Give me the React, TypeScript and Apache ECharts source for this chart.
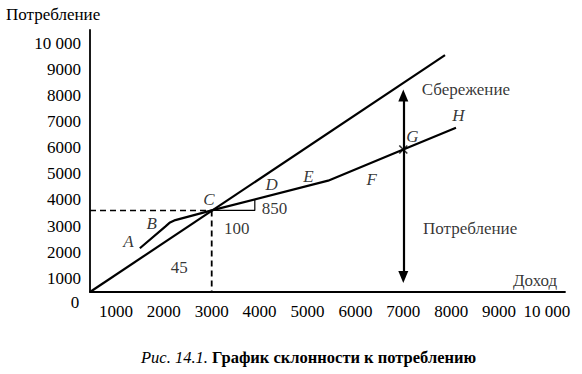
import React, { useEffect, useRef } from "react";
import * as echarts from "echarts";

// Axis tick labels (income / consumption)
const xTicks = [1000, 2000, 3000, 4000, 5000, 6000, 7000, 8000, 9000, 10000];
const yTicks = [1000, 2000, 3000, 4000, 5000, 6000, 7000, 8000, 9000, 10000];

// 45-degree line (consumption = income)
const diagonal: number[][] = [[459, 475], [7871, 9548]];
// Consumption function A-B-C-D-E-F-G-H
const consumption: number[][] = [
  [1500, 2150], [2030, 2980], [2130, 3140], [2240, 3230],
  [3000, 3600], [5430, 4740], [7000, 5935], [8100, 6770],
];
// Dashed guides through point C
const guideH: number[][] = [[459, 3600], [3000, 3600]];
const guideV: number[][] = [[3000, 3600], [3000, 475]];
// Slope triangle (100 / 850)
const slopeMark: number[][] = [[3000, 3600], [3900, 3600], [3900, 4020]];
// Savings / consumption arrow at income 7000
const arrowIncome = 7000;
const arrowTop = 8000;
const arrowBottom = 1050;
const pointG: number[] = [7000, 5935];

// Letters and annotations inside the plot
const pointLetters = [
  { text: "A", x: 1259, y: 2400 },
  { text: "B", x: 1747, y: 3105 },
  { text: "C", x: 2944, y: 4035 },
  { text: "D", x: 4253, y: 4610 },
  { text: "E", x: 5017, y: 4916 },
  { text: "F", x: 6340, y: 4790 },
  { text: "G", x: 7188, y: 6447 },
  { text: "H", x: 8148, y: 7251 },
];
const annotations = [
  { text: "850", x: 4044, y: 3679, align: "left" },
  { text: "100", x: 3522, y: 2913, align: "center" },
  { text: "45", x: 2324, y: 1420, align: "center" },
  { text: "Сбережение", x: 7384, y: 8235, align: "left" },
  { text: "Потребление", x: 7411, y: 2913, align: "left" },
  { text: "Доход", x: 9290, y: 934, align: "left" },
];

const FONT = "'Liberation Serif', 'DejaVu Serif', serif";
const FS = 17;
const fmt = (v: number) => (v === 10000 ? "10 000" : String(v));

export default function App() {
  const ref = useRef<HTMLDivElement>(null);
  useEffect(() => {
    document.body.style.margin = "0";
    if (!ref.current) return;
    const chart = echarts.init(ref.current, null, { renderer: "svg" });
    const black = "#000";
    chart.setOption({
      animation: false,
      backgroundColor: "#fff",
      grid: { left: 90, right: 17, top: 30, bottom: 82 },
      xAxis: {
        type: "value",
        min: 459,
        max: 10376,
        axisLine: { show: true, lineStyle: { color: black, width: 1.8 } },
        axisTick: { show: false },
        splitLine: { show: false },
        axisLabel: {
          customValues: xTicks,
          formatter: fmt,
          margin: 11,
          color: black,
          fontFamily: FONT,
          fontSize: FS,
        },
      },
      yAxis: {
        type: "value",
        min: 475,
        max: 10510,
        axisLine: { show: true, lineStyle: { color: black, width: 1.8 } },
        axisTick: { show: false },
        splitLine: { show: false },
        axisLabel: {
          customValues: yTicks,
          formatter: fmt,
          margin: 9,
          color: black,
          fontFamily: FONT,
          fontSize: FS,
        },
      },
      graphic: [
        {
          type: "text",
          left: 6,
          top: 6,
          style: { text: "Потребление", font: `${FS}px ${FONT}`, fill: black },
        },
        {
          type: "text",
          x: 75,
          y: 302,
          style: {
            text: "0",
            font: `${FS}px ${FONT}`,
            fill: black,
            align: "center",
            verticalAlign: "middle",
          },
        },
        {
          type: "text",
          left: 141,
          top: 349,
          style: {
            text: "{i|Рис. 14.1.} {b|График склонности к потреблению}",
            font: `16.5px ${FONT}`,
            fill: black,
            rich: {
              i: { fontStyle: "italic", fontSize: 16.5, fontFamily: FONT },
              b: { fontWeight: "bold", fontSize: 16.5, fontFamily: FONT },
            },
          },
        },
      ],
      series: [
        {
          type: "line",
          data: diagonal,
          showSymbol: false,
          lineStyle: { color: black, width: 2.2 },
        },
        {
          type: "line",
          data: consumption,
          showSymbol: false,
          lineStyle: { color: black, width: 2.2 },
        },
        {
          type: "line",
          data: guideH,
          showSymbol: false,
          lineStyle: { color: black, width: 1.5, type: [6, 4] },
        },
        {
          type: "line",
          data: guideV,
          showSymbol: false,
          lineStyle: { color: black, width: 1.8, type: [6, 4] },
        },
        {
          type: "line",
          data: slopeMark,
          showSymbol: false,
          lineStyle: { color: black, width: 1.2 },
        },
        {
          type: "scatter",
          data: [pointG],
          symbol: "path://M0,0L10,10M10,0L0,10",
          symbolSize: 8,
          itemStyle: { color: "transparent", borderColor: black, borderWidth: 1.6 },
          markLine: {
            silent: true,
            symbol: ["triangle", "triangle"],
            symbolSize: [10, 12],
            label: { show: false },
            lineStyle: { color: black, width: 2.2, type: "solid" },
            data: [[{ coord: [arrowIncome, arrowTop] }, { coord: [arrowIncome, arrowBottom] }]],
          },
        },
        {
          type: "scatter",
          symbolSize: 0,
          data: pointLetters.map((p) => ({ value: [p.x, p.y], name: p.text })),
          label: {
            show: true,
            position: "inside",
            formatter: (p: any) => p.name,
            fontStyle: "italic",
            fontFamily: FONT,
            fontSize: FS,
            color: black,
          },
        },
        {
          type: "scatter",
          symbolSize: 0,
          data: annotations.map((p) => ({
            value: [p.x, p.y],
            name: p.text,
            label: { align: p.align },
          })),
          label: {
            show: true,
            position: "inside",
            formatter: (p: any) => p.name,
            fontFamily: FONT,
            fontSize: FS,
            color: black,
          },
        },
      ],
    });
    return () => chart.dispose();
  }, []);
  return <div ref={ref} style={{ width: 582, height: 374 }} />;
}
